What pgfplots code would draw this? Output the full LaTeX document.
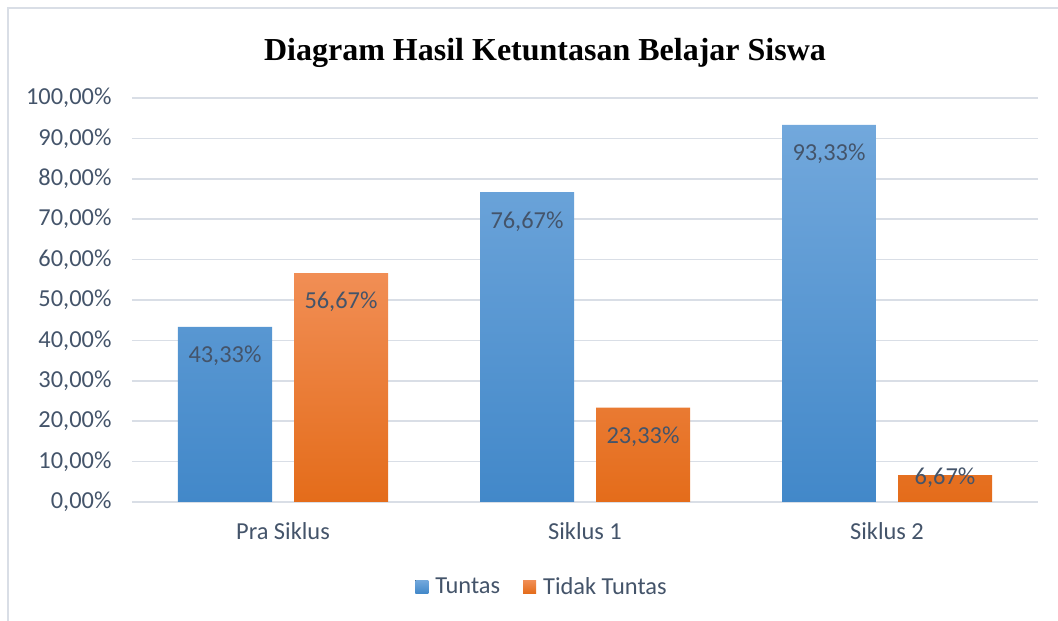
\documentclass[border=0pt]{standalone}
\usepackage{pgfplots}
\pgfplotsset{compat=1.18}
\usepackage{pgfplotstable}
\usepackage{fontspec}
\setmainfont{Carlito}
\newfontfamily\titlefont{Liberation Serif}
\definecolor{txt}{RGB}{68,84,106}
\definecolor{gridc}{RGB}{217,222,230}
\definecolor{btop}{RGB}{114,168,220}
\definecolor{bbot}{RGB}{66,136,201}
\definecolor{otop}{RGB}{241,142,85}
\definecolor{obot}{RGB}{228,108,26}
\pgfplotstableread{
x tun stun tid stid
0 43.33 -29 56.67 -29
1 76.67 -29 23.33 -29
2 93.33 -29 6.67 -3
}\datatab
\begin{document}
\begin{tikzpicture}[x=1pt,y=1pt]
\useasboundingbox (0,0) rectangle (1058,621);
\draw[gridc, line width=2pt] (8,0) -- (8,613) -- (1058,613);
\node[font=\titlefont\bfseries\fontsize{32}{38}\selectfont, text=black] at (545,568) {Diagram Hasil Ketuntasan Belajar Siswa};
\begin{axis}[
  at={(132pt,119pt)}, anchor=south west,
  scale only axis, width=906pt, height=404pt,
  xmin=-0.5, xmax=2.5, ymin=0, ymax=100,
  ybar=22pt, bar width=94pt,
  xtick={0,1,2}, xticklabels={Pra Siklus, Siklus 1, Siklus 2},
  ytick={0,10,...,100},
  ymajorgrids, grid style={gridc, line width=1.5pt},
  axis line style={draw=none}, major tick length=0pt,
  /pgf/number format/assume math mode=true,
  ticklabel style={font=\fontsize{24.4}{29}\selectfont, text=txt},
  xticklabel style={yshift=-17pt},
  yticklabel style={xshift=-17pt},
  yticklabel={\pgfmathprintnumber[fixed,fixed zerofill,precision=2,use comma]{\tick}\%},
  nodes near coords={\pgfmathprintnumber[fixed,fixed zerofill,precision=2,use comma,assume math mode=true]{\pgfplotspointmeta}\%},
  nodes near coords style={font=\fontsize{24.4}{29}\selectfont, text=txt, anchor=center, yshift=\sh},
  legend style={at={(0.4525,-0.21)}, anchor=center, draw=none, legend columns=2,
    font=\fontsize{24.4}{29}\selectfont, text=txt,
    /tikz/every even column/.append style={column sep=21pt}},
  legend image code/.code={\fill[#1] (0pt,-6.5pt) rectangle (13pt,6.5pt); \path (18pt,0pt);},
]
\addplot[draw=none, top color=btop, bottom color=bbot, visualization depends on={\thisrow{stun} \as \sh}] table[x=x,y=tun] {\datatab};
\addplot[draw=none, top color=otop, bottom color=obot, visualization depends on={\thisrow{stid} \as \sh}] table[x=x,y=tid] {\datatab};
\legend{Tuntas, Tidak Tuntas}
\end{axis}
\end{tikzpicture}
\end{document}
